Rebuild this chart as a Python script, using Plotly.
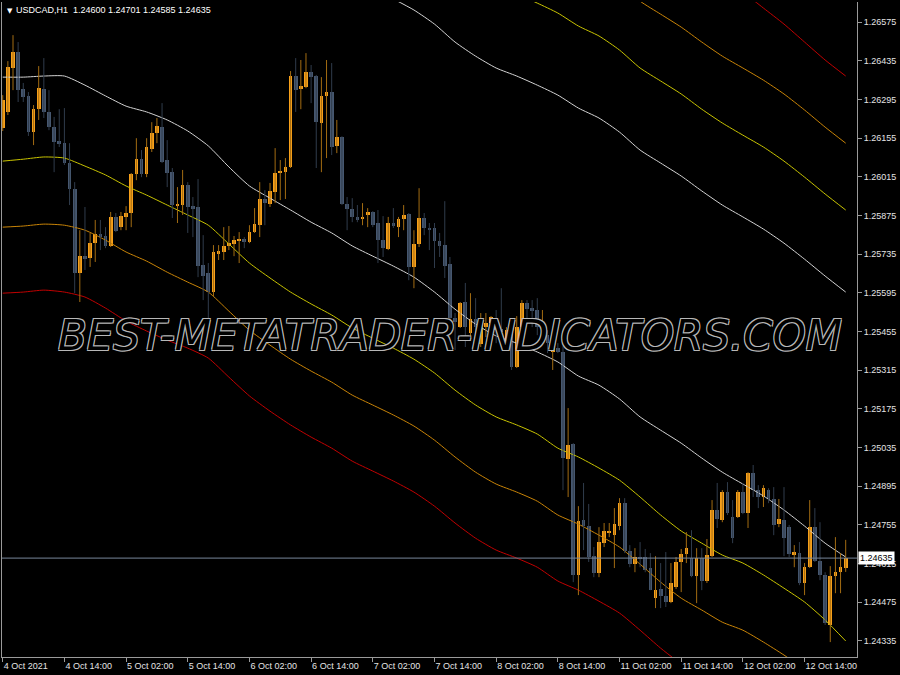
import plotly.graph_objects as go
import pandas as pd

# ---------------- data ----------------
symbol_header = "USDCAD,H1  1.24600 1.24701 1.24585 1.24635"

bar_times = (list(pd.date_range("2021-10-04 02:00", "2021-10-08 23:00", freq="h")) +
             list(pd.date_range("2021-10-11 00:00", "2021-10-12 22:00", freq="h")))

open_ = [1.26192,1.26250,1.26409,1.26467,1.26333,1.26308,1.26177,1.26260,1.26333,1.26250,
         1.26195,1.26145,1.26137,1.26065,1.25971,1.25667,1.25728,1.25721,1.25775,1.25808,
         1.25801,1.25765,1.25870,1.25833,1.25870,1.25884,1.26025,1.26079,1.26025,1.26116,
         1.26174,1.26195,1.26076,1.26032,1.25909,1.25913,1.25985,1.25909,1.25906,1.25696,
         1.25667,1.25598,1.25739,1.25743,1.25765,1.25772,1.25783,1.25790,1.25779,1.25815,
         1.25840,1.25935,1.25917,1.25960,1.26029,1.26032,1.26051,1.26380,1.26333,1.26340,
         1.26394,1.26380,1.26210,1.26308,1.26322,1.26127,1.26159,1.25917,1.25898,1.25870,
         1.25866,1.25877,1.25888,1.25848,1.25786,1.25754,1.25848,1.25833,1.25862,1.25880,
         1.25689,1.25772,1.25866,1.25830,1.25830,1.25783,1.25768,1.25699,1.25504,1.25471,
         1.25562,1.25450,1.25500,1.25410,1.25471,1.25486,1.25504,1.25464,1.25406,1.25471,
         1.25327,1.25471,1.25558,1.25540,1.25533,1.25435,1.25442,1.25381,1.25395,1.25381,
         1.24993,1.25048,1.24574,1.24773,1.24751,1.24642,1.24581,1.24689,1.24726,1.24718,
         1.24751,1.24834,1.24660,1.24613,1.24639,1.24639,1.24599,1.24490,1.24523,1.24497,
         1.24476,1.24530,1.24621,1.24650,1.24635,1.24570,1.24635,1.24552,1.24642,1.24809,
         1.24773,1.24874,1.24784,1.24784,1.24874,1.24798,1.24943,1.24881,1.24856,1.24881,
         1.24849,1.24758,1.24773,1.24747,1.24646,1.24653,1.24545,1.24602,1.24747,1.24624,
         1.24574,1.24393,1.24570,1.24584,1.24600]
high = [1.26311,1.26434,1.26528,1.26503,1.26355,1.26322,1.26275,1.26416,1.26445,1.26329,
        1.26232,1.26260,1.26264,1.26137,1.25996,1.25822,1.25906,1.25812,1.25859,1.25859,
        1.25833,1.25888,1.25884,1.25888,1.25909,1.26029,1.26155,1.26112,1.26155,1.26213,
        1.26228,1.26282,1.26148,1.26047,1.25978,1.26040,1.25996,1.25942,1.26007,1.25804,
        1.25703,1.25768,1.25768,1.25833,1.25837,1.25801,1.25815,1.25797,1.25840,1.25902,
        1.25996,1.25967,1.25993,1.26119,1.26076,1.26083,1.26398,1.26445,1.26438,1.26463,
        1.26420,1.26384,1.26376,1.26438,1.26427,1.26221,1.26162,1.25942,1.25938,1.25913,
        1.25920,1.25902,1.25891,1.25895,1.25873,1.25870,1.25902,1.25870,1.25913,1.25884,
        1.25822,1.25974,1.25884,1.25848,1.25848,1.25812,1.25927,1.25725,1.25522,1.25562,
        1.25631,1.25594,1.25576,1.25522,1.25522,1.25511,1.25533,1.25612,1.25471,1.25486,
        1.25511,1.25569,1.25569,1.25569,1.25576,1.25533,1.25460,1.25417,1.25413,1.25402,
        1.25178,1.25051,1.24823,1.24907,1.24831,1.24675,1.24747,1.24762,1.24762,1.24816,
        1.24852,1.24852,1.24682,1.24671,1.24693,1.24668,1.24653,1.24642,1.24617,1.24657,
        1.24617,1.24639,1.24668,1.24729,1.24736,1.24671,1.24671,1.24704,1.24845,1.24907,
        1.24881,1.24910,1.24845,1.24881,1.24907,1.24946,1.24972,1.24899,1.24899,1.24888,
        1.24892,1.24849,1.24892,1.24755,1.24682,1.24693,1.24617,1.24845,1.24816,1.24765,
        1.24584,1.24606,1.24711,1.24653,1.24701]
low = [1.26181,1.26239,1.26329,1.26286,1.26286,1.26163,1.26130,1.26221,1.26228,1.26184,
       1.26032,1.26123,1.26058,1.25913,1.25594,1.25562,1.25678,1.25689,1.25707,1.25750,
       1.25757,1.25761,1.25815,1.25822,1.25822,1.25833,1.26003,1.26014,1.26014,1.26105,
       1.26137,1.26065,1.25978,1.25866,1.25848,1.25877,1.25812,1.25797,1.25652,1.25569,
       1.25497,1.25580,1.25714,1.25714,1.25750,1.25728,1.25703,1.25757,1.25775,1.25812,
       1.25797,1.25840,1.25906,1.25920,1.25931,1.25935,1.26047,1.26250,1.26260,1.26336,
       1.26282,1.26047,1.26032,1.26083,1.26094,1.26101,1.25913,1.25822,1.25851,1.25851,
       1.25840,1.25833,1.25833,1.25703,1.25725,1.25750,1.25830,1.25797,1.25822,1.25641,
       1.25612,1.25761,1.25804,1.25750,1.25685,1.25725,1.25649,1.25471,1.25388,1.25468,
       1.25399,1.25435,1.25413,1.25399,1.25435,1.25471,1.25413,1.25435,1.25399,1.25316,
       1.25323,1.25468,1.25497,1.25471,1.25442,1.25413,1.25377,1.25316,1.25377,1.24881,
       1.24856,1.24548,1.24501,1.24664,1.24621,1.24566,1.24566,1.24675,1.24711,1.24599,
       1.24736,1.24653,1.24602,1.24584,1.24602,1.24584,1.24519,1.24454,1.24454,1.24458,
       1.24472,1.24523,1.24512,1.24617,1.24566,1.24472,1.24519,1.24545,1.24639,1.24744,
       1.24765,1.24791,1.24689,1.24780,1.24794,1.24744,1.24856,1.24816,1.24820,1.24834,
       1.24718,1.24747,1.24642,1.24639,1.24602,1.24537,1.24501,1.24599,1.24621,1.24555,
       1.24393,1.24331,1.24508,1.24508,1.24585]
close = [1.26293,1.26412,1.26467,1.26329,1.26304,1.26177,1.26260,1.26336,1.26250,1.26195,
         1.26141,1.26134,1.26065,1.25971,1.25667,1.25728,1.25721,1.25775,1.25808,1.25797,
         1.25765,1.25870,1.25819,1.25873,1.25884,1.26025,1.26079,1.26025,1.26123,1.26174,
         1.26199,1.26069,1.26029,1.25913,1.25917,1.25985,1.25906,1.25902,1.25692,1.25656,
         1.25598,1.25743,1.25746,1.25765,1.25775,1.25786,1.25790,1.25779,1.25815,1.25844,
         1.25935,1.25920,1.25964,1.26029,1.26036,1.26051,1.26380,1.26329,1.26344,1.26394,
         1.26376,1.26213,1.26308,1.26322,1.26123,1.26159,1.25917,1.25898,1.25870,1.25859,
         1.25870,1.25888,1.25840,1.25786,1.25757,1.25848,1.25837,1.25862,1.25877,1.25689,
         1.25772,1.25866,1.25830,1.25826,1.25783,1.25765,1.25692,1.25504,1.25489,1.25558,
         1.25471,1.25500,1.25471,1.25497,1.25486,1.25508,1.25460,1.25457,1.25460,1.25327,
         1.25471,1.25558,1.25536,1.25529,1.25471,1.25442,1.25413,1.25395,1.25381,1.24997,
         1.25044,1.24574,1.24769,1.24751,1.24639,1.24581,1.24693,1.24733,1.24729,1.24758,
         1.24834,1.24660,1.24613,1.24639,1.24631,1.24592,1.24519,1.24519,1.24497,1.24476,
         1.24545,1.24621,1.24650,1.24671,1.24570,1.24635,1.24552,1.24646,1.24809,1.24776,
         1.24874,1.24798,1.24707,1.24874,1.24798,1.24943,1.24881,1.24856,1.24888,1.24849,
         1.24755,1.24776,1.24707,1.24650,1.24657,1.24545,1.24602,1.24747,1.24624,1.24574,
         1.24400,1.24570,1.24584,1.24602,1.24635]

# band lines, sampled every 4 bars
lower_bars = list(range(0, 165, 4))
white_lower = [1.26376,1.26376,1.26380,1.26380,1.26347,1.26308,1.26271,1.26250,1.26221,1.26181,
               1.26127,1.26051,1.25982,1.25938,1.25895,1.25851,1.25812,1.25765,1.25728,1.25692,
               1.25652,1.25598,1.25536,1.25482,1.25439,1.25413,1.25381,1.25345,1.25294,1.25261,
               1.25211,1.25146,1.25098,1.25051,1.24997,1.24946,1.24903,1.24860,1.24809,1.24751,
               1.24689,1.24639]
yellow_lower = [1.26072,1.26079,1.26087,1.26083,1.26054,1.26022,1.25982,1.25949,1.25913,1.25877,
                1.25840,1.25772,1.25703,1.25649,1.25598,1.25555,1.25515,1.25468,1.25431,1.25395,
                1.25355,1.25305,1.25243,1.25189,1.25146,1.25117,1.25084,1.25033,1.25001,1.24961,
                1.24917,1.24856,1.24791,1.24733,1.24689,1.24646,1.24617,1.24574,1.24526,1.24476,
                1.24411,1.24335]
orange_lower = [1.25833,1.25837,1.25844,1.25840,1.25822,1.25786,1.25743,1.25710,1.25670,1.25634,
                1.25598,1.25529,1.25460,1.25406,1.25355,1.25312,1.25272,1.25225,1.25189,1.25153,
                1.25113,1.25062,1.25001,1.24946,1.24903,1.24874,1.24841,1.24791,1.24758,1.24718,
                1.24675,1.24613,1.24548,1.24490,1.24447,1.24403,1.24374,1.24331,1.24284,1.24233]
red_lower = [1.25594,1.25598,1.25605,1.25598,1.25580,1.25540,1.25493,1.25457,1.25424,1.25395,
             1.25359,1.25290,1.25222,1.25167,1.25117,1.25073,1.25033,1.24986,1.24950,1.24914,
             1.24874,1.24823,1.24762,1.24707,1.24664,1.24635,1.24602,1.24552,1.24519,1.24479,
             1.24436,1.24374,1.24309,1.24251]
white_upper_bars = list(range(76, 165, 4))
white_upper = [1.26659,1.26619,1.26568,1.26503,1.26452,1.26409,1.26380,1.26347,1.26311,1.26264,
               1.26228,1.26177,1.26112,1.26065,1.26018,1.25964,1.25913,1.25870,1.25826,1.25775,
               1.25717,1.25656,1.25598]
yellow_upper_bars = list(range(100, 165, 4))
yellow_upper = [1.26677,1.26644,1.26608,1.26561,1.26525,1.26474,1.26409,1.26362,1.26315,1.26260,
                1.26210,1.26166,1.26123,1.26072,1.26014,1.25953,1.25895]
orange_upper_bars = list(range(120, 165, 4))
orange_upper = [1.26717,1.26651,1.26604,1.26557,1.26503,1.26452,1.26409,1.26365,1.26315,1.26257,
                1.26195,1.26137]
red_upper_bars = list(range(140, 165, 4))
red_upper = [1.26735,1.26684,1.26626,1.26568,1.26503,1.26438,1.26380]

price_labels = ["1.26575","1.26435","1.26295","1.26155","1.26015","1.25875","1.25735","1.25595",
                "1.25455","1.25315","1.25175","1.25035","1.24895","1.24755","1.24615","1.24475",
                "1.24335"]
watermark = "BEST-METATRADER-INDICATORS.COM"

# ---------------- styling ----------------
BULL = "#F7A01A"
BULL_WICK = "#A36C12"
BEAR = "#46576F"
BEAR_WICK = "#303C4C"
TXT = "#E4E4E4"
AXC = "#9A9A9A"

n = len(open_)
xs = list(range(n))

fig = go.Figure()

def band(xv, yv, color):
    fig.add_trace(go.Scatter(x=xv, y=yv, mode="lines",
                             line=dict(color=color, width=1, shape="spline", smoothing=0.6),
                             hoverinfo="skip"))

band(lower_bars[:len(red_lower)], red_lower, "#C20000")
band(lower_bars[:len(orange_lower)], orange_lower, "#C98407")
band(lower_bars, yellow_lower, "#C9C400")
band(lower_bars, white_lower, "#D4D4D4")
band(white_upper_bars, white_upper, "#D4D4D4")
band(yellow_upper_bars, yellow_upper, "#C9C400")
band(orange_upper_bars, orange_upper, "#C98407")
band(red_upper_bars, red_upper, "#C20000")

# wicks
for bull, col in ((True, BULL_WICK), (False, BEAR_WICK)):
    wx, wy = [], []
    for i in xs:
        if (close[i] >= open_[i]) == bull:
            wx += [i, i, None]
            wy += [low[i], high[i], None]
    fig.add_trace(go.Scatter(x=wx, y=wy, mode="lines", line=dict(color=col, width=1),
                             hoverinfo="skip"))

# bodies
min_h = 0.00004
for bull, col in ((True, BULL), (False, BEAR)):
    bx, bb, bh = [], [], []
    for i in xs:
        if (close[i] >= open_[i]) == bull:
            bx.append(i)
            bb.append(min(open_[i], close[i]))
            bh.append(max(abs(close[i] - open_[i]), min_h))
    fig.add_trace(go.Bar(x=bx, y=bh, base=bb, width=0.72, marker=dict(color=col, line=dict(width=0)),
                         hoverinfo="skip"))

last_price = close[-1]
fig.add_hline(y=last_price, line=dict(color="#77879B", width=1))

# x tick labels from bar times
tickvals, ticktext = [], []
for i, t in enumerate(bar_times):
    if i % 12 == 0:
        tickvals.append(i)
        ticktext.append(f"{t.day} {t.strftime('%b')} {t.year}" if i == 0 else f"{t.day} {t.strftime('%b %H:%M')}")

fig.update_layout(
    width=900, height=675,
    paper_bgcolor="black", plot_bgcolor="black",
    margin=dict(l=2, r=43, t=2, b=18),
    showlegend=False, barmode="overlay", bargap=0,
    font=dict(family="Liberation Sans, Arial, sans-serif", size=9, color=TXT),
    xaxis=dict(range=[-0.14, 166.2], showgrid=False, zeroline=False,
               tickvals=tickvals, ticktext=ticktext, ticks="outside", ticklen=4,
               tickcolor=AXC, ticklabelposition="outside right",
               showline=True, linecolor=AXC, linewidth=1,
               tickfont=dict(size=9, color=TXT)),
    yaxis=dict(range=[1.24277, 1.26648], side="right", showgrid=False, zeroline=False,
               tickvals=[float(v) for v in price_labels], ticktext=price_labels,
               ticks="outside", ticklen=4, tickcolor=AXC,
               showline=True, linecolor=AXC, linewidth=1, mirror=True,
               tickfont=dict(size=9, color=TXT)),
)

# header
fig.add_annotation(xref="paper", yref="paper", x=0, y=1, xshift=3, yshift=-3,
                   xanchor="left", yanchor="top", showarrow=False,
                   text="▼", font=dict(family="DejaVu Sans", size=7, color="white"))
fig.add_annotation(xref="paper", yref="paper", x=0, y=1, xshift=12, yshift=-1,
                   xanchor="left", yanchor="top", showarrow=False,
                   text=symbol_header, font=dict(size=9, color="white"))

# current price box
fig.add_annotation(xref="paper", yref="y", x=1, y=last_price, xshift=1,
                   xanchor="left", yanchor="middle", showarrow=False,
                   text=f"{last_price:.5f}", bgcolor="white", borderpad=1,
                   font=dict(size=9, color="black"))

# watermark
fig.add_annotation(xref="paper", yref="y", x=0.524, y=1.25442, showarrow=False,
                   text=watermark,
                   font=dict(family="DejaVu Sans", size=42, color="black", style="italic",
                             shadow="1px 1px 0 #B8B8B8, -1px -1px 0 #B8B8B8, 1px -1px 0 #B8B8B8, -1px 1px 0 #B8B8B8"))

fig.write_html("out.html", config={"displayModeBar": False},
               post_script="document.body.style.margin='0px';document.body.style.background='black';")
